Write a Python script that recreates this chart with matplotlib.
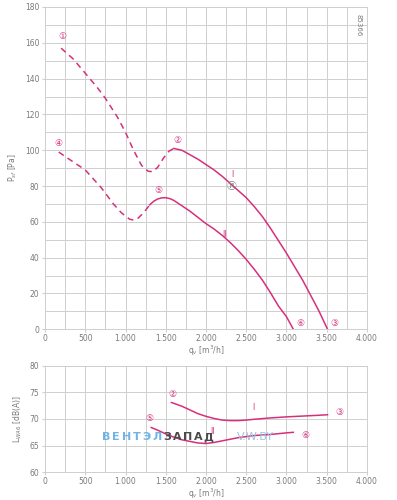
import matplotlib.pyplot as plt
from matplotlib.ticker import MultipleLocator, FuncFormatter

# pressure curves (top chart)
q_I_dash = [200, 350, 500, 650, 750, 900, 1000, 1100, 1200, 1280, 1340, 1400, 1470, 1540, 1600]
p_I_dash = [157, 151, 143, 135, 129, 118.5, 110, 100, 91.5, 88.3, 88, 90.5, 95.5, 99.5, 101]
q_I = [1600, 1700, 1800, 1900, 2000, 2100, 2200, 2300, 2400, 2500, 2600, 2700,
       2800, 2900, 3000, 3100, 3200, 3300, 3400, 3510]
p_I = [101, 100, 97.5, 95, 92, 89, 85.5, 81.5, 77.5, 73.5, 68.5, 63,
       56.5, 49.5, 42.5, 35, 27.5, 19, 10.5, 0]

q_II_dash = [170, 300, 500, 700, 850, 950, 1050, 1100, 1150, 1200, 1250, 1300]
p_II_dash = [99, 95, 89, 79, 70, 65, 61.5, 61, 61.8, 64, 66.5, 69.5]
q_II = [1300, 1350, 1400, 1450, 1500, 1550, 1600, 1700, 1800, 1900, 2000, 2100,
        2200, 2300, 2400, 2500, 2600, 2700, 2800, 2900, 3000, 3085]
p_II = [69.5, 71.5, 72.8, 73.4, 73.5, 73, 72, 69, 66, 62.5, 59, 56,
        52.5, 48.5, 44, 39, 33.5, 27.5, 20.5, 13, 7, 0]

# sound power curves (bottom chart)
qs_I = [1570, 1700, 1800, 1900, 2000, 2100, 2200, 2300, 2400, 2500, 2600, 2800,
        3000, 3200, 3400, 3510]
L_I = [73.1, 72.4, 71.7, 71.0, 70.5, 70.1, 69.8, 69.7, 69.7, 69.8, 69.95, 70.2,
       70.4, 70.55, 70.7, 70.8]
qs_II = [1320, 1400, 1500, 1600, 1700, 1800, 1900, 2000, 2100, 2200, 2300, 2400,
         2500, 2600, 2800, 3000, 3085]
L_II = [68.4, 67.9, 67.2, 66.6, 66.1, 65.8, 65.5, 65.4, 65.6, 65.9, 66.2, 66.5,
        66.7, 66.9, 67.1, 67.4, 67.5]

# point labels: (text, q, value)
top_marks = [("①", 211, 163.5), ("④", 165, 103.5), ("②", 1640, 105.7),
             ("⑤", 1404, 77.3), ("⑥", 3168, 3.5), ("③", 3590, 3.5)]
bot_marks = [("②", 1578, 74.6), ("③", 3652, 71.2), ("⑤", 1292, 70.1),
             ("⑥", 3230, 66.9)]

wm_blue = "ВЕНТЭЛ"
wm_dark = "ЗАПАД"

pink = "#d6307c"
grid_c = "#cfcfcf"
txt_c = "#7a7a7a"
circ_font = ["DejaVu Sans", "Noto Sans CJK JP"]


def thousands(v, pos):
    v = int(round(v))
    return f"{v:,}".replace(",", ".")


def style_axes(ax):
    ax.set_xlim(0, 4000)
    ax.xaxis.set_major_locator(MultipleLocator(500))
    ax.xaxis.set_minor_locator(MultipleLocator(250))
    ax.xaxis.set_major_formatter(FuncFormatter(thousands))
    ax.grid(True, which="both", color=grid_c, linewidth=0.7)
    ax.set_axisbelow(True)
    for s in ax.spines.values():
        s.set_color(grid_c)
        s.set_linewidth(0.7)
    ax.tick_params(which="both", length=2, color=grid_c, labelsize=5.5,
                   labelcolor=txt_c, pad=2)
    ax.tick_params(axis="x", pad=1.5)
    ax.tick_params(which="minor", length=0)
    ax.set_xlabel("q$_v$ [m$^3$/h]", fontsize=5.5, color=txt_c, labelpad=0)


fig = plt.figure(figsize=(3.97, 5.0), dpi=100)
ax1 = fig.add_axes([0.1134, 0.3414, 0.811, 0.6446])
ax2 = fig.add_axes([0.1134, 0.0554, 0.811, 0.2132])

# top chart
style_axes(ax1)
ax1.set_ylim(0, 180)
ax1.yaxis.set_major_locator(MultipleLocator(20))
ax1.yaxis.set_minor_locator(MultipleLocator(10))
ax1.set_ylabel("P$_{sf}$ [Pa]", fontsize=5.5, color=txt_c, labelpad=4)

dash = (0, (4, 3))
ax1.plot(q_I_dash, p_I_dash, color=pink, lw=1.1, ls=dash)
ax1.plot(q_I, p_I, color=pink, lw=1.1)
ax1.plot(q_II_dash, p_II_dash, color=pink, lw=1.1, ls=dash)
ax1.plot(q_II, p_II, color=pink, lw=1.1)

for t, x, y in top_marks:
    ax1.text(x, y, t, color=pink, fontsize=6.5, ha="center", va="center",
             family=circ_font)
ax1.text(2323, 80.1, "⑪", color="#808080", fontsize=7, ha="center",
         va="center", family=circ_font)
ax1.text(2323, 86.5, "I", color=pink, fontsize=5.5, ha="center", va="center")
ax1.text(2224, 52.7, "II", color=pink, fontsize=5.5, ha="center", va="center")
ax1.text(3900, 176, "85366", color=txt_c, fontsize=5, rotation=270,
         ha="center", va="top")

# bottom chart
style_axes(ax2)
ax2.set_ylim(60, 80)
ax2.yaxis.set_major_locator(MultipleLocator(5))
ax2.set_ylabel("L$_{WA6}$ [dB(A)]", fontsize=5.5, color=txt_c, labelpad=4)

ax2.plot(qs_I, L_I, color=pink, lw=1.1)
ax2.plot(qs_II, L_II, color=pink, lw=1.1)
for t, x, y in bot_marks:
    ax2.text(x, y, t, color=pink, fontsize=6.5, ha="center", va="center",
             family=circ_font)
ax2.text(2584, 72.1, "I", color=pink, fontsize=5.5, ha="center", va="center")
ax2.text(2075, 67.7, "II", color=pink, fontsize=5.5, ha="center", va="center")

# watermark, letter spaced
step = 10.2 / 397
x0 = 106 / 397
for i, ch in enumerate(wm_blue + wm_dark):
    col = "#6fb4e4" if i < len(wm_blue) else "#4a4a4a"
    fig.text(x0 + i * step, 0.126, ch, color=col, fontsize=8,
             fontweight="bold", ha="center", va="center")
fig.text(0.598, 0.126, "V.W.BY", color="#9ec3df", fontsize=8, va="center")

fig.savefig("out.png", dpi=100)
